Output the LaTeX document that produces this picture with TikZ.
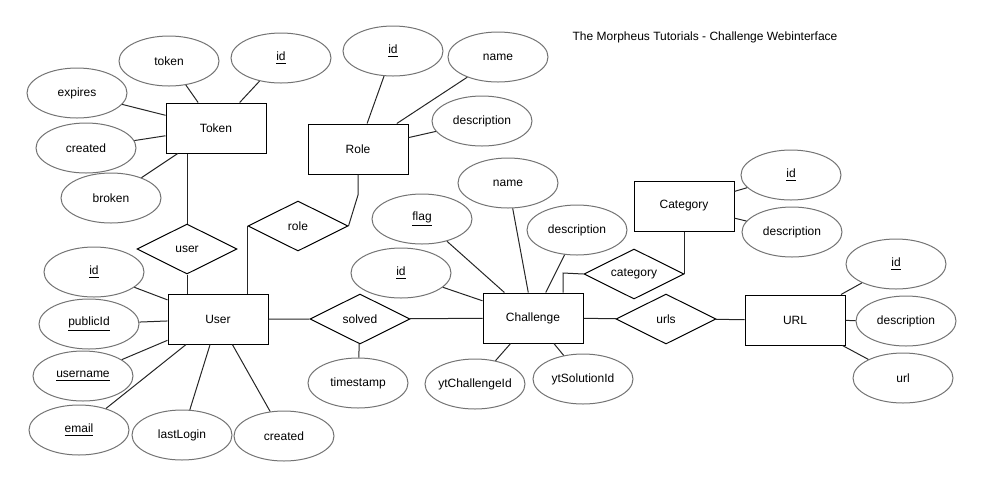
\documentclass[tikz,border=0pt]{standalone}
\usepackage{fontspec}
\setmainfont{Liberation Sans}
\usetikzlibrary{shapes.geometric}

\begin{document}
\begin{tikzpicture}[x=0.75pt,y=-0.75pt,
  font=\fontsize{9}{11}\selectfont,
  entity/.style={draw=black, line width=0.75pt, minimum width=75pt, minimum height=37.5pt},
  attr/.style={draw=black!55, line width=0.75pt, ellipse, minimum width=75pt, minimum height=37.5pt, inner xsep=-12pt, inner ysep=0pt},
  rel/.style={draw=black, line width=0.75pt, diamond, aspect=2, minimum width=75pt, minimum height=37.5pt, inner sep=0pt},
  link/.style={line width=0.75pt, black!85}]
\useasboundingbox (0,0) rectangle (982,487);

% Titel
\node (title) at (705,37) {The Morpheus Tutorials - Challenge Webinterface};

% Token
\node [entity] (Token) at (216,128) {Token};
\node [attr] (tokToken) at (169,61) {token};
\node [attr] (tokId) at (281,58) {\underline{id}};
\node [attr] (tokExpires) at (77,93) {expires};
\node [attr] (tokCreated) at (86,148) {created};
\node [attr] (tokBroken) at (111,198) {broken};

% Role
\node [entity] (Role) at (358,149) {Role};
\node [attr] (roleId) at (393,51) {\underline{id}};
\node [attr] (roleName) at (498,57) {name};
\node [attr] (roleDesc) at (482,121) {description};

% User
\node [entity] (User) at (218,319) {User};
\node [attr] (userId) at (94,272) {\underline{id}};
\node [attr] (userPublic) at (89,324) {\underline{publicId}};
\node [attr] (userName) at (83,376) {\underline{username}};
\node [attr] (userMail) at (79,430) {\underline{email}};
\node [attr] (userLogin) at (182,435) {lastLogin};
\node [attr] (userCreated) at (284,436) {created};

% Challenge
\node [entity] (Challenge) at (533,318) {Challenge};
\node [attr] (chId) at (401,273) {\underline{id}};
\node [attr] (chFlag) at (422,219) {\underline{flag}};
\node [attr] (chName) at (508,183) {name};
\node [attr] (chDesc) at (577,230) {description};
\node [attr] (chYtC) at (475,384) {ytChallengeId};
\node [attr] (chYtS) at (583,379) {ytSolutionId};

% Category
\node [entity] (Category) at (684,206) {Category};
\node [attr] (catId) at (791,175) {\underline{id}};
\node [attr] (catDesc) at (792,232) {description};

% URL
\node [entity] (URL) at (795,320) {URL};
\node [attr] (urlId) at (896,264) {\underline{id}};
\node [attr] (urlDesc) at (906,321) {description};
\node [attr] (urlUrl) at (903,378) {url};

% Beziehungen
\node [rel] (hasUser) at (187,249) {user};
\node [rel] (hasRole) at (298,226) {role};
\node [rel] (solved) at (360,319) {solved};
\node [attr] (timestamp) at (358,383) {timestamp};
\node [rel] (hasCat) at (634,274) {category};
\node [rel] (urls) at (666,319) {urls};

\coordinate (roleBend) at (358,195);
\coordinate (catBend) at (563,273);

% Attribute
\foreach \a in {tokToken,tokId,tokExpires,tokCreated,tokBroken}
  \draw [link] (Token) -- (\a);
\foreach \a in {roleId,roleName,roleDesc}
  \draw [link] (Role) -- (\a);
\foreach \a in {userId,userPublic,userName,userMail,userLogin,userCreated}
  \draw [link] (User) -- (\a);
\foreach \a in {chId,chFlag,chName,chDesc,chYtC,chYtS}
  \draw [link] (Challenge) -- (\a);
\foreach \a in {catId,catDesc}
  \draw [link] (Category) -- (\a);
\foreach \a in {urlId,urlDesc,urlUrl}
  \draw [link] (URL) -- (\a);

% Verbindungen
\draw [link] (hasUser.north) -- (hasUser.north |- Token.south);
\draw [link] (hasUser.south) -- (hasUser.south |- User.north);
\draw [link] (Role) -- (roleBend) -- (hasRole.east);
\draw [link] (hasRole.west) -- (hasRole.west |- User.north);
\draw [link] (User) -- (solved) -- (Challenge);
\draw [link] (solved) -- (timestamp);
\draw [link] (catBend |- Challenge.north) -- (catBend) -- (hasCat.west);
\draw [link] (hasCat.east) -- (hasCat.east |- Category.south);
\draw [link] (Challenge) -- (urls) -- (URL);
\end{tikzpicture}
\end{document}
